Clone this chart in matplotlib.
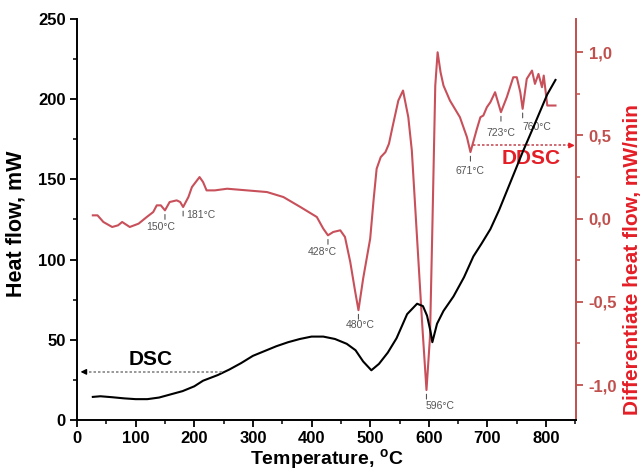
import matplotlib.pyplot as plt
from matplotlib.ticker import MultipleLocator, FuncFormatter
import numpy as np

plt.rcParams['font.family'] = ['Liberation Sans', 'DejaVu Sans']
plt.rcParams['font.weight'] = 'bold'
plt.rcParams['axes.labelweight'] = 'bold'
plt.rcParams['mathtext.fontset'] = 'custom'
plt.rcParams['mathtext.rm'] = 'Liberation Sans:bold'
plt.rcParams['mathtext.bf'] = 'Liberation Sans:bold'

## DSC curve: temperature (C) and heat flow (mW)
dsc_t = [27, 40, 60, 80, 100, 120, 140, 160, 180, 200, 215, 240, 260, 280, 300,
         320, 340, 360, 380, 400, 420, 440, 460, 475, 488, 502, 515, 530, 545,
         563, 580, 590, 597, 603, 606, 614, 625, 642, 660, 676, 690, 705, 720,
         740, 760, 780, 802, 816]
dsc_hf = [14.4, 14.8, 14.2, 13.5, 13.0, 13.0, 14.0, 16.0, 18.0, 21.0, 24.5, 28.0,
          31.5, 35.5, 40.0, 43.0, 46.0, 48.5, 50.5, 52.0, 52.0, 50.5, 47.5, 43.5,
          36.5, 31.0, 35.0, 42.0, 51.0, 66.0, 72.5, 71.0, 65.0, 55.0, 48.5, 60.0,
          68.0, 77.0, 89.0, 102.0, 110.0, 119.0, 131.0, 149.0, 167.0, 184.0,
          203.0, 212.0]

## DDSC curve: temperature (C) and differential heat flow (mW/min)
ddsc_t = [27, 35, 45, 60, 70, 77, 90, 105, 119, 130, 136, 143, 150, 158, 170,
          176, 181, 190, 196, 209, 215, 221, 235, 256, 290, 324, 352, 381, 409,
          420, 428, 437, 449, 457, 466, 474, 480, 488, 500, 506, 511, 518, 526,
          532, 538, 548, 556, 565, 571, 580, 589, 596, 602, 606, 611, 615, 620,
          625, 636, 653, 665, 671, 682, 688, 693, 699, 705, 713, 723, 733, 744,
          750, 756, 760, 767, 776, 781, 787, 793, 796, 800, 802, 816]
ddsc_v = [0.02, 0.02, -0.02, -0.05, -0.04, -0.02, -0.05, -0.03, 0.01, 0.04,
          0.08, 0.08, 0.05, 0.10, 0.11, 0.10, 0.07, 0.13, 0.19, 0.25, 0.22,
          0.17, 0.17, 0.18, 0.17, 0.16, 0.13, 0.07, 0.01, -0.06, -0.10, -0.08,
          -0.07, -0.11, -0.26, -0.43, -0.55, -0.36, -0.12, 0.12, 0.30, 0.37,
          0.40, 0.45, 0.55, 0.71, 0.77, 0.61, 0.41, -0.12, -0.65, -1.03, -0.71,
          -0.06, 0.80, 1.00, 0.88, 0.80, 0.71, 0.61, 0.49, 0.40, 0.54, 0.61,
          0.62, 0.67, 0.70, 0.76, 0.64, 0.73, 0.85, 0.85, 0.76, 0.66, 0.84,
          0.89, 0.81, 0.87, 0.79, 0.86, 0.74, 0.68, 0.68]

## marked DDSC minima
peak_t = [150, 181, 428, 480, 596, 671, 723, 760]

red_axis = '#c0504d'
red_line = '#c8505a'
red_text = '#e41e26'

fig = plt.figure(figsize=(6.43, 4.73), dpi=100)
ax = fig.add_axes([77 / 643, 53 / 473, 499 / 643, 401 / 473])
ax2 = ax.twinx()

# DSC on the left axis, drawn above the DDSC axes
ax.set_zorder(ax2.get_zorder() + 1)
ax.patch.set_visible(False)
ax.plot(dsc_t, dsc_hf, color='black', lw=1.5)
ax.set_xlim(0, 851)
ax.set_ylim(0, 250)
ax.xaxis.set_major_locator(MultipleLocator(100))
ax.xaxis.set_minor_locator(MultipleLocator(50))
ax.yaxis.set_major_locator(MultipleLocator(50))
ax.yaxis.set_minor_locator(MultipleLocator(25))
ax.spines['top'].set_visible(False)
ax.spines['right'].set_visible(False)
for s in ['left', 'bottom']:
    ax.spines[s].set_linewidth(1.4)
ax.tick_params(which='major', direction='out', length=5, width=1.3, labelsize=12, pad=3)
ax.tick_params(which='minor', direction='out', length=3, width=1.1)
ax.set_xlabel('Temperature, $^{\\mathbf{o}}$C', fontsize=14)
ax.xaxis.set_label_coords(0.5, -0.068)
ax.set_ylabel('Heat flow, mW', fontsize=15.5)
ax.yaxis.set_label_coords(-0.102, 0.49)

# DDSC on the right axis
ax2.plot(ddsc_t, ddsc_v, color=red_line, lw=1.5)
ax2.set_ylim(-1.21, 1.20)
ax2.yaxis.set_major_locator(MultipleLocator(0.5))
ax2.yaxis.set_minor_locator(MultipleLocator(0.25))
ax2.yaxis.set_major_formatter(FuncFormatter(lambda v, p: f'{v:.1f}'.replace('.', ',')))
for s in ['top', 'left', 'bottom']:
    ax2.spines[s].set_visible(False)
ax2.spines['right'].set_color(red_axis)
ax2.spines['right'].set_linewidth(1.4)
ax2.tick_params(which='major', direction='out', length=5, width=1.3, colors=red_axis,
                labelsize=12, pad=4)
ax2.tick_params(which='minor', direction='out', length=3, width=1.1, colors=red_axis)
ax2.set_ylabel('Differentiate heat flow, mW/min', fontsize=15, color=red_text)
ax2.yaxis.set_label_coords(1.094, 0.4)

# peak labels: offsets of the text centre from the minimum, in pixels
label_off = [(-4, -17), (18, -8), (-6, -17), (2, -15), (14, -16), (0, -19), (0, -21), (14, -18)]
peak_v = np.interp(peak_t, ddsc_t, ddsc_v)
for t, v, (dx, dy) in zip(peak_t, peak_v, label_off):
    ax2.annotate('', xy=(t, v), xytext=(0, -9), textcoords='offset pixels',
                 arrowprops=dict(arrowstyle='-', color='#555555', lw=0.8, shrinkA=0, shrinkB=3))
    ax2.annotate(f'{t}°C', xy=(t, v), xytext=(dx, dy), textcoords='offset pixels',
                 ha='center', va='center', fontsize=7.5, fontweight='normal', color='#555555')

# DSC pointer to the left axis
ax.plot([248, 12], [30, 30], ls=(0, (1.5, 1.2)), color='#888888', lw=1.2)
ax.annotate('', xy=(6, 30), xytext=(14, 30),
            arrowprops=dict(arrowstyle='-|>', color='black', lw=1, mutation_scale=8, shrinkA=0, shrinkB=0))
ax.text(125, 37.5, 'DSC', fontsize=15, ha='center', va='center', color='black')

# DDSC pointer to the right axis
ax2.plot([676, 840], [0.44, 0.44], ls=(0, (1.5, 1.2)), color=red_line, lw=1.2)
ax2.annotate('', xy=(849, 0.44), xytext=(838, 0.44),
             arrowprops=dict(arrowstyle='-|>', color=red_text, lw=1, mutation_scale=8, shrinkA=0, shrinkB=0))
ax2.text(775, 0.36, 'DDSC', fontsize=15, ha='center', va='center', color=red_text)

fig.savefig('out.png', dpi=100, facecolor='white')
